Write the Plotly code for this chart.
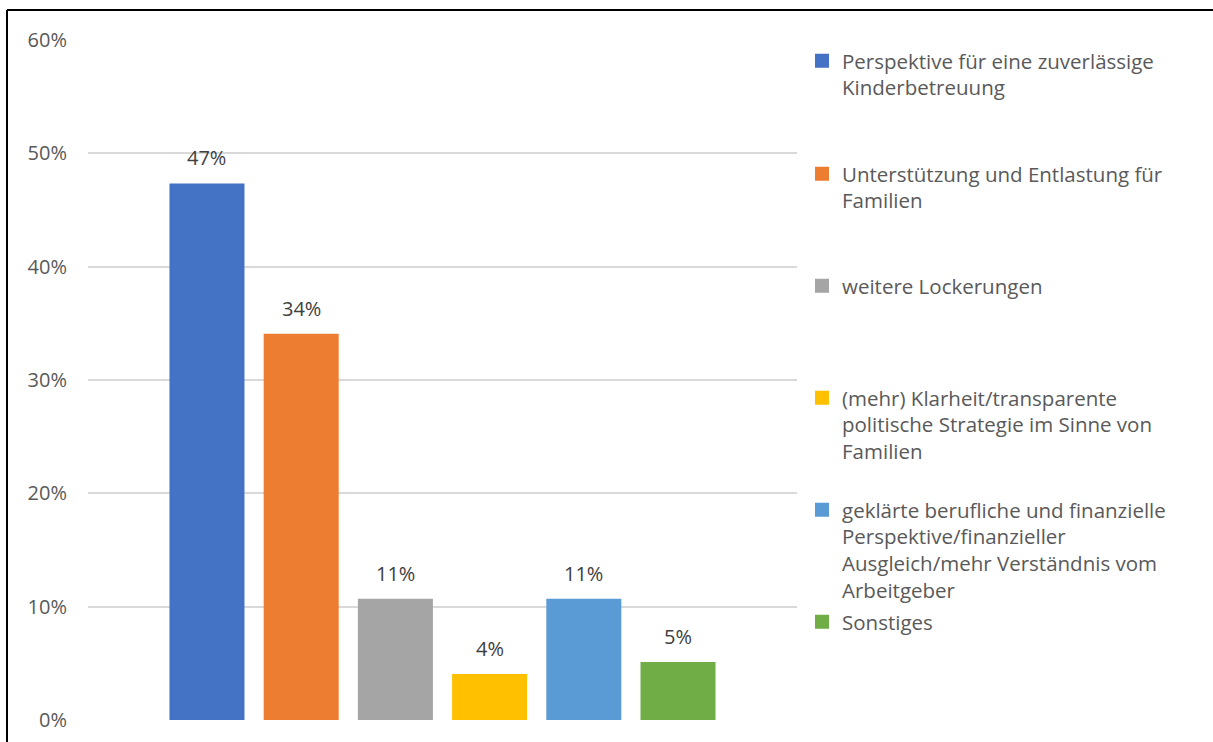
import plotly.graph_objects as go

# Antworten und Anteile
categories = [
    "Perspektive für eine zuverlässige<br>Kinderbetreuung",
    "Unterstützung und Entlastung für<br>Familien",
    "weitere Lockerungen",
    "(mehr) Klarheit/transparente<br>politische Strategie im Sinne von<br>Familien",
    "geklärte berufliche und finanzielle<br>Perspektive/finanzieller<br>Ausgleich/mehr Verständnis vom<br>Arbeitgeber",
    "Sonstiges",
]
shares = [0.4726, 0.3400, 0.1060, 0.0398, 0.1060, 0.0504]
colors = ["#4472C4", "#ED7D31", "#A5A5A5", "#FFC000", "#5B9BD5", "#70AD47"]
y_ticks = [0, 0.1, 0.2, 0.3, 0.4, 0.5, 0.6]

FONT = "Open Sans"
FS = 20
LEG_FS = 20.5
W, H = 1213, 742
L, R, T, B = 88, 416, 40, 22
plot_h = H - T - B

# top edges (px) of each legend block
legend_tops = [41, 154, 266, 378, 490, 602]

fig = go.Figure()
for i, (name, val, col) in enumerate(zip(categories, shares, colors)):
    lg = "legend" if i == 0 else f"legend{i + 1}"
    fig.add_trace(go.Bar(
        x=[i], y=[val], name=name, width=0.775,
        marker=dict(color=col, line=dict(width=2, color=col)),
        legend=lg, hoverinfo="skip",
    ))
    fig.add_annotation(
        x=i, y=val, text=f"{round(val * 100):.0f}%", showarrow=False,
        yanchor="bottom", yshift=11,
        font=dict(family=FONT, size=FS, color="#404040"),
    )

legends = {}
for i, top in enumerate(legend_tops):
    key = "legend" if i == 0 else f"legend{i + 1}"
    legends[key] = dict(
        x=(802 - L) / (W - L - R), xanchor="left",
        y=(H - B - top) / plot_h, yanchor="top",
        valign="top", bgcolor="rgba(0,0,0,0)", borderwidth=0,
        font=dict(family=FONT, size=LEG_FS, color="#595959"),
        itemclick=False, itemdoubleclick=False,
    )

fig.update_layout(
    width=W, height=H,
    margin=dict(l=L, r=R, t=T, b=B, autoexpand=False),
    paper_bgcolor="white", plot_bgcolor="white",
    barmode="overlay", showlegend=True,
    font=dict(family=FONT, size=FS, color="#595959"),
    xaxis=dict(range=[-1.263, 6.263], visible=False, fixedrange=True),
    yaxis=dict(
        range=[0, 0.6], tickvals=y_ticks, tickformat=".0%",
        showgrid=True, gridcolor="#D9D9D9", gridwidth=1.5,
        zeroline=False, showline=False, ticks="",
        ticklabelstandoff=20, fixedrange=True,
        tickfont=dict(family=FONT, size=FS, color="#595959"),
    ),
    shapes=[
        dict(type="line", xref="paper", yref="paper",
             x0=(7 - L) / (W - L - R), x1=(W + 5 - L) / (W - L - R),
             y0=(H - B - 10) / plot_h, y1=(H - B - 10) / plot_h,
             line=dict(color="black", width=2)),
        dict(type="line", xref="paper", yref="paper",
             x0=(7 - L) / (W - L - R), x1=(7 - L) / (W - L - R),
             y0=(H - B - 10) / plot_h, y1=(H - B - H - 5) / plot_h,
             line=dict(color="black", width=2)),
    ],
    **legends,
)

fig.write_html("out.html", config={"displayModeBar": False})
